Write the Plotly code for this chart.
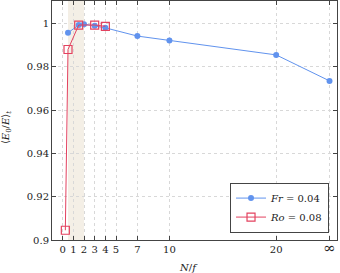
import plotly.graph_objects as go

# Data
fr_x = [0.5, 1.5, 2, 3, 4, 7, 10, 20, 25]
fr_y = [0.9957, 0.9993, 0.9997, 0.9990, 0.9980, 0.9942, 0.9922, 0.9855, 0.9735]
ro_x = [0.25, 0.5, 1.5, 3, 4]
ro_y = [0.9045, 0.9880, 0.9993, 0.9993, 0.9987]
x_tickvals = [0, 1, 2, 3, 4, 5, 7, 10, 20, 25]
x_ticktext = ["0", "1", "2", "3", "4", "5", "7", "10", "20",
              "<span style='font-size:15px'>∞</span>"]
y_tickvals = [0.9, 0.92, 0.94, 0.96, 0.98, 1.0]
y_ticktext = ["0.9", "0.92", "0.94", "0.96", "0.98", "1"]
shade_range = [0.5, 2]

FONT = "DejaVu Serif"
blue = "#6193ee"
red = "#e3425f"

fig = go.Figure()
fig.add_vrect(x0=shade_range[0], x1=shade_range[1], fillcolor="#f4efe6",
              line_width=0, layer="below")
fig.add_trace(go.Scatter(x=fr_x, y=fr_y, mode="lines+markers",
                         name="<i>Fr</i> = 0.04",
                         line=dict(color=blue, width=1),
                         marker=dict(color=blue, size=6, symbol="circle")))
fig.add_trace(go.Scatter(x=ro_x, y=ro_y, mode="lines+markers",
                         name="<i>Ro</i> = 0.08",
                         line=dict(color=red, width=1),
                         marker=dict(color=red, size=8, symbol="square-open",
                                     line=dict(color=red, width=1.2))))

axis_common = dict(showline=True, linecolor="#444", linewidth=1, mirror="ticks",
                   ticks="inside", ticklen=4, tickcolor="#444",
                   showgrid=True, gridcolor="#d8d8d8", griddash="dot", gridwidth=1,
                   zeroline=False, automargin=False,
                   tickfont=dict(family=FONT, size=10, color="#222"))

fig.update_xaxes(range=[-1, 25.7], tickmode="array", tickvals=x_tickvals,
                 ticktext=x_ticktext, **axis_common)
fig.update_yaxes(range=[0.9, 1.0104], tickmode="array", tickvals=y_tickvals,
                 ticktext=y_ticktext, **axis_common)

fig.add_annotation(text="<i>N</i>/<i>f</i>", xref="paper", yref="paper",
                   x=0.48, y=-0.085, xanchor="center", yanchor="top", showarrow=False,
                   font=dict(family=FONT, size=10, color="#222"))
fig.add_annotation(text="⟨<i>E</i><sub>0</sub>/<i>E</i>⟩<sub><i>t</i></sub>",
                   xref="paper", yref="paper", x=-0.16, y=0.47, textangle=-90,
                   xanchor="center", yanchor="middle", showarrow=False,
                   font=dict(family=FONT, size=10, color="#222"))

fig.update_layout(
    width=340, height=273,
    margin=dict(l=52, r=3, t=1, b=33),
    plot_bgcolor="white", paper_bgcolor="white",
    font=dict(family=FONT, size=10, color="#222"),
    legend=dict(x=0.972, y=0.031, xanchor="right", yanchor="bottom",
                bordercolor="#444", borderwidth=1, bgcolor="white",
                font=dict(family=FONT, size=10), tracegroupgap=0,
                itemwidth=30),
    showlegend=True,
)

fig.write_html("out.html", config={"displayModeBar": False},
               post_script="document.body.style.margin='0';")
